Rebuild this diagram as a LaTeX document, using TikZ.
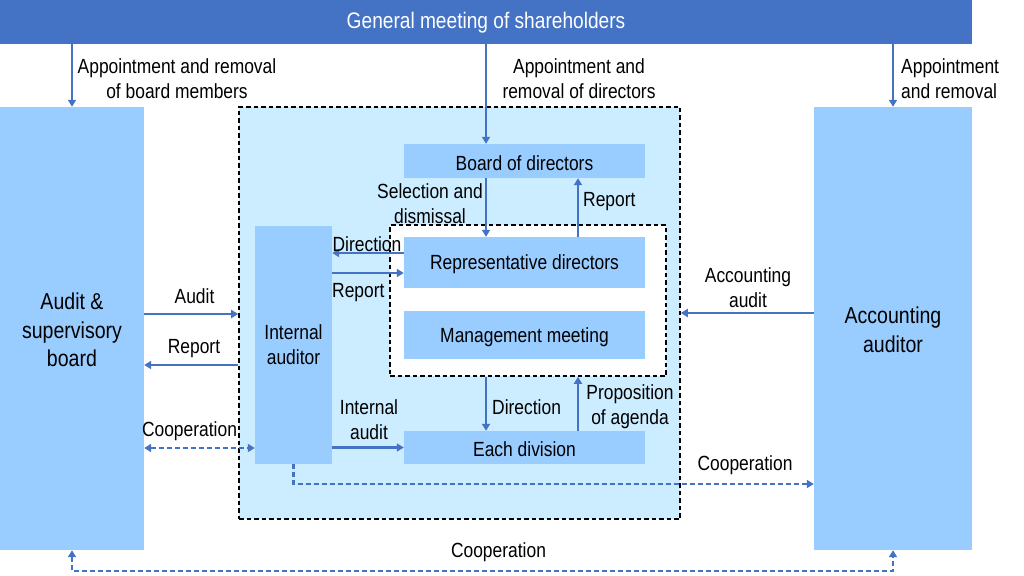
\documentclass[tikz,border=0pt]{standalone}
\usepackage{fontspec}
\setmainfont{Liberation Sans}[FakeStretch=0.85]
\usetikzlibrary{arrows.meta,calc}
\definecolor{gmblue}{HTML}{4472C4}
\definecolor{boxblue}{HTML}{99CCFF}
\definecolor{areablue}{HTML}{CCECFF}
\newcommand\lowr[2][2pt]{\raisebox{-#1}[\height][\depth]{#2}}
\begin{document}
\begin{tikzpicture}[x=1pt,y=-1pt,
  box/.style={fill=boxblue, draw=none, inner sep=0, align=center},
  lbl/.style={font=\fontsize{20.5}{25}\selectfont, align=center, inner sep=0},
  big/.style={font=\fontsize{23}{28.5}\selectfont},
  arr/.style={draw=gmblue, line width=2.2pt, -{Triangle[width=8pt,length=7pt]}},
  darr/.style={arr, dash pattern=on 5pt off 3pt},
  dbox/.style={draw=black, line width=1.6pt, dash pattern=on 4.5pt off 3pt, inner sep=0}]
\useasboundingbox (0,0) rectangle (1024,575);
% containers
\node[dbox, fill=areablue, minimum width=441pt, minimum height=412pt] (outer) at (459.5,313) {};
\node[dbox, fill=white, minimum width=276pt, minimum height=151pt] (inner) at (528,300.5) {};
% boxes
\node[fill=gmblue, inner sep=0, minimum width=972pt, minimum height=44pt, text=white,
      font=\fontsize{22.5}{27}\selectfont] (gm) at (486,22) {\lowr[1pt]{General meeting of shareholders}};
\node[box, big, minimum width=144pt, minimum height=443pt] (asb) at (72,328.5) {\lowr[4pt]{\begin{tabular}{@{}c@{}}Audit \&\\supervisory\\board\end{tabular}}};
\node[box, big, minimum width=158pt, minimum height=443pt] (acc) at (893,328.5) {\lowr[4pt]{\begin{tabular}{@{}c@{}}Accounting\\auditor\end{tabular}}};
\node[box, lbl, minimum width=241pt, minimum height=34pt] (bod) at (524.5,161) {\lowr{Board of directors}};
\node[box, lbl, minimum width=241pt, minimum height=51pt] (rep) at (524.5,262.5) {\lowr{Representative directors}};
\node[box, lbl, minimum width=241pt, minimum height=48pt] (mm) at (524.5,335) {\lowr{Management meeting}};
\node[box, lbl, minimum width=241pt, minimum height=33pt] (ed) at (524.5,447.5) {\lowr{Each division}};
\node[box, lbl, minimum width=77pt, minimum height=238pt] (ia) at (293.5,345) {Internal\\auditor};
% helper coordinates
\coordinate (xa) at (486,0);
\coordinate (xb) at (578,0);
\coordinate (yDir) at (0,253);
\coordinate (yRep) at (0,273);
\coordinate (yAud) at (0,314);
\coordinate (yRep2) at (0,365);
\coordinate (yCoop) at (0,448);
\coordinate (yAcc) at (0,313);
\coordinate (yDash) at (0,484);
\coordinate (yBot) at (0,571);
% arrows from the general meeting
\draw[arr] (gm.south -| asb.north) -- (asb.north);
\draw[arr] (gm.south -| xa) -- (bod.north -| xa);
\draw[arr] (gm.south -| acc.north) -- (acc.north);
% board / representative directors
\draw[arr] (bod.south -| xa) -- (rep.north -| xa);
\draw[arr] (rep.north -| xb) -- (bod.south -| xb);
% representative directors / internal auditor
\draw[arr] (rep.west |- yDir) -- (ia.east |- yDir);
\draw[arr] (ia.east |- yRep) -- (rep.west |- yRep);
% audit & supervisory board
\draw[arr] (asb.east |- yAud) -- (outer.west |- yAud);
\draw[arr] (outer.west |- yRep2) -- (asb.east |- yRep2);
\draw[darr, {Triangle[width=8pt,length=7pt]}-{Triangle[width=8pt,length=7pt]}] (asb.east |- yCoop) -- (ia.west |- yCoop);
% internal audit
\draw[arr] (ia.east |- ed.west) -- (ed.west);
% management / each division
\draw[arr] (inner.south -| xa) -- (ed.north -| xa);
\draw[arr] (ed.north -| xb) -- (inner.south -| xb);
% accounting auditor
\draw[arr] (acc.west |- yAcc) -- (outer.east |- yAcc);
\draw[darr] (ia.south) -- (ia.south |- yDash) -- (acc.west |- yDash);
\draw[darr, {Triangle[width=8pt,length=7pt]}-{Triangle[width=8pt,length=7pt]}] (asb.south) -- (asb.south |- yBot) -- (acc.south |- yBot) -- (acc.south);
% labels
\node[lbl] (l1) at (177,79) {Appointment and removal\\of board members};
\node[lbl] (l2) at (579,79) {Appointment and\\removal of directors};
\node[lbl, anchor=west, align=left] (l3) at (901,79) {Appointment\\and removal};
\node[lbl] (l4) at (430,203.5) {Selection and\\dismissal};
\node[lbl, anchor=west] (l5) at (583,202) {Report};
\node[lbl] (l6) at (367,244) {Direction};
\node[lbl, anchor=west] (l7) at (332,293) {Report};
\node[lbl] (l8) at (194.5,296) {Audit};
\node[lbl] (l9) at (194,349) {Report};
\node[lbl] (l10) at (189.5,431) {Cooperation};
\node[lbl] (l11) at (369,420) {Internal\\audit};
\node[lbl, anchor=west] (l12) at (492,407) {Direction};
\node[lbl] (l13) at (630,407) {Proposition\\of agenda};
\node[lbl] (l14) at (748,288) {Accounting\\audit};
\node[lbl] (l15) at (745,465) {Cooperation};
\node[lbl] (l16) at (498.5,552) {Cooperation};
\end{tikzpicture}
\end{document}
